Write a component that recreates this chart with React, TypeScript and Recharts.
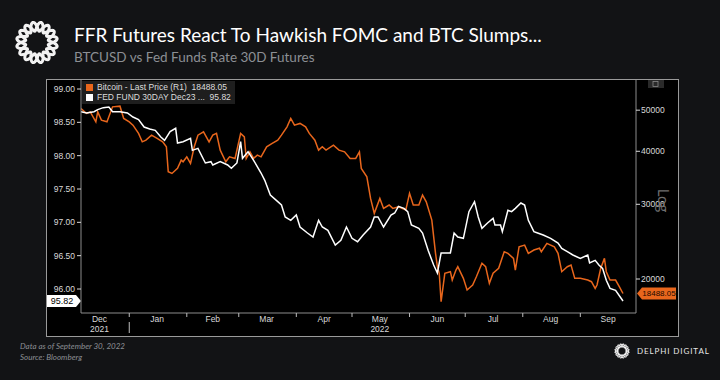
import React from 'react';
import { LineChart, Line, XAxis, YAxis, ReferenceLine } from 'recharts';

// FED FUND 30DAY Dec23 (left axis)
const ffrDates = [
  '2021-12-06', '2021-12-09', '2021-12-13', '2021-12-15', '2021-12-18', '2021-12-21', '2021-12-23', '2021-12-27',
  '2021-12-31', '2022-01-03', '2022-01-06', '2022-01-09', '2022-01-12', '2022-01-15', '2022-01-18', '2022-01-20',
  '2022-01-23', '2022-01-26', '2022-01-27', '2022-01-30', '2022-02-03', '2022-02-04', '2022-02-07', '2022-02-11',
  '2022-02-14', '2022-02-15', '2022-02-19', '2022-02-23', '2022-02-25', '2022-02-28', '2022-03-02', '2022-03-03',
  '2022-03-06', '2022-03-09', '2022-03-13', '2022-03-15', '2022-03-18', '2022-03-22', '2022-03-24', '2022-03-26',
  '2022-03-29', '2022-04-01', '2022-04-03', '2022-04-07', '2022-04-10', '2022-04-13', '2022-04-15', '2022-04-18',
  '2022-04-22', '2022-04-25', '2022-04-28', '2022-05-01', '2022-05-04', '2022-05-07', '2022-05-11', '2022-05-13',
  '2022-05-15', '2022-05-18', '2022-05-22', '2022-05-24', '2022-05-26', '2022-05-29', '2022-05-31', '2022-06-02',
  '2022-06-06', '2022-06-08', '2022-06-11', '2022-06-14', '2022-06-16', '2022-06-18', '2022-06-23', '2022-06-25',
  '2022-06-27', '2022-06-30', '2022-07-03', '2022-07-06', '2022-07-08', '2022-07-10', '2022-07-13', '2022-07-16',
  '2022-07-17', '2022-07-20', '2022-07-21', '2022-07-24', '2022-07-26', '2022-07-28', '2022-07-31', '2022-08-02',
  '2022-08-04', '2022-08-07', '2022-08-09', '2022-08-12', '2022-08-16', '2022-08-20', '2022-08-22', '2022-08-25',
  '2022-08-28', '2022-09-01', '2022-09-05', '2022-09-06', '2022-09-09', '2022-09-11', '2022-09-13', '2022-09-15',
  '2022-09-17', '2022-09-20', '2022-09-24',
];
const ffrValues = [
  98.66, 98.64, 98.66, 98.69, 98.72, 98.73, 98.66, 98.66,
  98.64, 98.58, 98.54, 98.43, 98.4, 98.38, 98.28, 98.23,
  98.36, 98.41, 98.19, 98.21, 98.26, 98.08, 98.11, 97.89,
  97.91, 97.86, 97.91, 97.86, 97.81, 97.89, 98.21, 97.96,
  98.06, 97.93, 97.74, 97.63, 97.41, 97.31, 97.26, 97.08,
  97.03, 97.11, 96.93, 96.84, 96.78, 97.03, 96.93, 96.88,
  96.66, 96.73, 96.93, 96.76, 96.71, 96.81, 96.93, 97.08,
  97.08, 96.93, 97.11, 97.14, 97.24, 97.21, 97.16, 96.96,
  96.91, 96.84, 96.58, 96.36, 96.24, 96.54, 96.54, 96.84,
  96.78, 96.76, 97.16, 97.31, 97.08, 96.91, 96.99, 97.06,
  96.96, 96.96, 96.86, 97.18, 97.16, 97.21, 97.29, 97.26,
  97.03, 96.86, 96.84, 96.81, 96.76, 96.69, 96.61, 96.56,
  96.51, 96.46, 96.51, 96.39, 96.43, 96.36, 96.31, 96.13,
  96.01, 95.98, 95.82,
];

// Bitcoin - Last Price (right axis, log)
const btcDates = [
  '2021-12-06', '2021-12-09', '2021-12-11', '2021-12-14', '2021-12-15', '2021-12-17', '2021-12-20', '2021-12-23',
  '2021-12-27', '2021-12-29', '2022-01-01', '2022-01-03', '2022-01-06', '2022-01-08', '2022-01-10', '2022-01-13',
  '2022-01-16', '2022-01-19', '2022-01-21', '2022-01-22', '2022-01-24', '2022-01-27', '2022-01-29', '2022-01-30',
  '2022-02-01', '2022-02-03', '2022-02-05', '2022-02-07', '2022-02-10', '2022-02-13', '2022-02-15', '2022-02-17',
  '2022-02-19', '2022-02-22', '2022-02-24', '2022-02-27', '2022-03-02', '2022-03-04', '2022-03-05', '2022-03-07',
  '2022-03-09', '2022-03-11', '2022-03-13', '2022-03-16', '2022-03-19', '2022-03-22', '2022-03-24', '2022-03-27',
  '2022-03-29', '2022-03-31', '2022-04-03', '2022-04-06', '2022-04-08', '2022-04-11', '2022-04-13', '2022-04-15',
  '2022-04-17', '2022-04-21', '2022-04-24', '2022-04-27', '2022-04-30', '2022-05-03', '2022-05-05', '2022-05-06',
  '2022-05-09', '2022-05-11', '2022-05-13', '2022-05-15', '2022-05-16', '2022-05-18', '2022-05-21', '2022-05-23',
  '2022-05-26', '2022-05-30', '2022-06-01', '2022-06-03', '2022-06-06', '2022-06-08', '2022-06-10', '2022-06-13',
  '2022-06-15', '2022-06-16', '2022-06-17', '2022-06-18', '2022-06-20', '2022-06-23', '2022-06-24', '2022-06-26',
  '2022-06-27', '2022-06-30', '2022-07-02', '2022-07-05', '2022-07-07', '2022-07-10', '2022-07-12', '2022-07-14',
  '2022-07-16', '2022-07-19', '2022-07-22', '2022-07-24', '2022-07-27', '2022-07-28', '2022-07-30', '2022-08-02',
  '2022-08-04', '2022-08-07', '2022-08-10', '2022-08-11', '2022-08-14', '2022-08-18', '2022-08-20', '2022-08-22',
  '2022-08-25', '2022-08-27', '2022-08-29', '2022-09-01', '2022-09-05', '2022-09-07', '2022-09-09', '2022-09-10',
  '2022-09-12', '2022-09-14', '2022-09-15', '2022-09-17', '2022-09-20', '2022-09-22', '2022-09-24',
];
const btcValues = [
  50470, 49110, 49550, 46940, 49550, 47380, 46940, 50910,
  51100, 47810, 46940, 46100, 44070, 42100, 42490, 43660,
  42890, 42100, 40990, 35790, 35470, 36450, 38130, 37780,
  38820, 37460, 40990, 43660, 44450, 42100, 43660, 44070,
  40250, 37780, 38820, 38480, 44070, 43260, 38480, 39880,
  38480, 39170, 38820, 40990, 41740, 42490, 43660, 45670,
  47810, 46100, 46530, 45670, 44070, 42490, 40250, 40990,
  40250, 41360, 40250, 39880, 38480, 38480, 39880, 36450,
  34830, 30970, 28560, 30150, 30970, 29340, 29880, 29340,
  29610, 29080, 31830, 29880, 29880, 31540, 30410, 27540,
  22990, 21380, 20630, 17680, 20630, 20810, 19890, 21000,
  21380, 20070, 18840, 19360, 20250, 21780, 21380, 19540,
  20630, 21200, 23190, 22990, 22370, 21000, 23820, 24040,
  22990, 23410, 23630, 23190, 24270, 23820, 22990, 20810,
  21380, 21580, 20070, 20070, 19890, 19710, 19010, 19360,
  21200, 22370, 20810, 19890, 19890, 19180, 18488.05,
];

const monthStarts = [
  '2022-01-01', '2022-02-01', '2022-03-01', '2022-04-01', '2022-05-01',
  '2022-06-01', '2022-07-01', '2022-08-01', '2022-09-01',
];
const monthLabels = ['Dec', 'Jan', 'Feb', 'Mar', 'Apr', 'May', 'Jun', 'Jul', 'Aug', 'Sep'];
const monthLabelDates = [
  '2021-12-16', '2022-01-16', '2022-02-15', '2022-03-16', '2022-04-16',
  '2022-05-16', '2022-06-16', '2022-07-16', '2022-08-16', '2022-09-16',
];
const yearLabels: Record<string, string> = { Dec: '2021', May: '2022' };
const leftTicks = [96, 96.5, 97, 97.5, 98, 98.5, 99];
const rightTicks = [20000, 30000, 40000, 50000];

const BTC_NAME = 'Bitcoin - Last Price (R1)';
const FFR_NAME = 'FED FUND 30DAY Dec23 ...';
const ORANGE = '#e8661c';
const AXIS_FONT = "'Liberation Sans', Arial, sans-serif";
const UI_FONT = "Lato, 'Open Sans', sans-serif";

const ts = (d: string) => Date.parse(d);

type Row = { t: number; ffr?: number; btc?: number };
const rowMap = new Map<number, Row>();
ffrDates.forEach((d, i) => {
  const t = ts(d);
  rowMap.set(t, { ...(rowMap.get(t) || { t }), ffr: ffrValues[i] });
});
btcDates.forEach((d, i) => {
  const t = ts(d);
  rowMap.set(t, { ...(rowMap.get(t) || { t }), btc: btcValues[i] });
});
const data = [...rowMap.values()].sort((a, b) => a.t - b.t);

const ffrLast = ffrValues[ffrValues.length - 1];
const btcLast = btcValues[btcValues.length - 1];

const startTicks = new Set(monthStarts.map(ts));
const labelByTick = new Map(monthLabelDates.map((d, i) => [ts(d), monthLabels[i]]));
const xTicks = [...monthStarts, ...monthLabelDates].map(ts).sort((a, b) => a - b);

const MonthTick = (props: any) => {
  const { x, y, payload } = props;
  const v = payload.value;
  if (startTicks.has(v)) {
    const isYearStart = new Date(v).getUTCMonth() === 0;
    return (
      <g>
        <line x1={x} x2={x} y1={y} y2={y + 4} stroke="#bdbdbd" />
        {isYearStart && <line x1={x} x2={x} y1={y + 9} y2={y + 20} stroke="#bdbdbd" />}
      </g>
    );
  }
  const m = labelByTick.get(v) || '';
  return (
    <g fontFamily={AXIS_FONT} fontSize={8.5} fill="#d9d9d9" textAnchor="middle">
      <text x={x} y={y + 9}>{m}</text>
      {yearLabels[m] && <text x={x} y={y + 18.5}>{yearLabels[m]}</text>}
    </g>
  );
};

const LeftTag = (props: any) => {
  const { x, y } = props.viewBox;
  return (
    <g>
      <polygon
        points={`${x - 34},${y - 6} ${x - 5},${y - 6} ${x},${y} ${x - 5},${y + 6} ${x - 34},${y + 6}`}
        fill="#ffffff"
      />
      <text x={x - 19} y={y + 3.2} textAnchor="middle" fontFamily={AXIS_FONT} fontSize={9} fill="#000">
        {ffrLast.toFixed(2)}
      </text>
    </g>
  );
};

const RightTag = (props: any) => {
  const { x, y, width } = props.viewBox;
  const x0 = x + width;
  return (
    <g>
      <polygon
        points={`${x0 + 1},${y} ${x0 + 6},${y - 6} ${x0 + 40},${y - 6} ${x0 + 40},${y + 6} ${x0 + 6},${y + 6}`}
        fill={ORANGE}
      />
      <text x={x0 + 23} y={y + 3} textAnchor="middle" fontFamily={AXIS_FONT} fontSize={8} fill="#1a0a00">
        {btcLast.toFixed(2)}
      </text>
    </g>
  );
};

// braided ring: two wavy loops around a circle
const Logo = ({ cx, cy, r, amp, w }: { cx: number; cy: number; r: number; amp: number; w: number }) => {
  const ring = (sign: number) => {
    const pts: string[] = [];
    for (let i = 0; i <= 160; i++) {
      const a = (i / 160) * Math.PI * 2;
      const rr = r + sign * amp * Math.sin(a * 8);
      pts.push(`${(cx + Math.cos(a) * rr).toFixed(2)},${(cy + Math.sin(a) * rr).toFixed(2)}`);
    }
    return `M${pts.join('L')}Z`;
  };
  return (
    <g fill="none" stroke="#f2f2f2" strokeWidth={w} strokeLinejoin="round">
      <path d={ring(1)} />
      <path d={ring(-1)} />
    </g>
  );
};

export default function App() {
  return (
    <div
      style={{
        position: 'absolute',
        left: 0,
        top: 0,
        width: 720,
        height: 380,
        background: '#121315',
        overflow: 'hidden',
      }}
    >
      <svg width={720} height={380} style={{ position: 'absolute', left: 0, top: 0 }}>
        <Logo cx={37} cy={42.5} r={16} amp={4.5} w={3} />
        <Logo cx={622} cy={351} r={5.5} amp={1.6} w={1.1} />
        <text x={74} y={42} fontFamily={UI_FONT} fontSize={19} fill="#ffffff">
          FFR Futures React To Hawkish FOMC and BTC Slumps...
        </text>
        <text x={74} y={62} fontFamily={UI_FONT} fontSize={13.5} fill="#8c8f94">
          BTCUSD vs Fed Funds Rate 30D Futures
        </text>
        <text x={20} y={349} fontFamily={UI_FONT} fontSize={8} fontStyle="italic" fill="#8c8f94">
          Data as of September 30, 2022
        </text>
        <text x={20} y={360} fontFamily={UI_FONT} fontSize={8} fontStyle="italic" fill="#8c8f94">
          Source: Bloomberg
        </text>
        <text x={637} y={354} fontFamily={UI_FONT} fontSize={8} letterSpacing={0.9} fill="#e6e6e6">
          DELPHI DIGITAL
        </text>
        <rect x={46.5} y={79.5} width={632} height={257} fill="#000" stroke="#9a9a9a" />
        <rect x={648} y={80} width={16} height={8} fill="#2a2a2a" />
        <rect x={653} y={81.5} width={5} height={5} fill="none" stroke="#888" strokeWidth={0.8} />
      </svg>

      <div style={{ position: 'absolute', left: 0, top: 0 }}>
        <LineChart
          width={720}
          height={380}
          data={data}
          margin={{ top: 80, right: 41, bottom: 37, left: 46 }}
        >
          <XAxis
            dataKey="t"
            type="number"
            domain={[ts('2021-12-06'), ts('2022-10-01')]}
            allowDataOverflow
            ticks={xTicks}
            interval={0}
            tick={<MonthTick />}
            tickLine={false}
            tickSize={0}
            tickMargin={0}
            axisLine={{ stroke: '#8c8c8c' }}
            height={30}
          />
          <YAxis
            yAxisId="left"
            orientation="left"
            type="number"
            width={35}
            domain={[95.64, 99.135]}
            allowDataOverflow
            ticks={leftTicks}
            interval={0}
            tickFormatter={(v: number) => v.toFixed(2)}
            tick={{ fill: '#d9d9d9', fontSize: 8.5, fontFamily: AXIS_FONT }}
            tickLine={{ stroke: '#d9d9d9' }}
            tickSize={4}
            tickMargin={2}
            axisLine={{ stroke: '#8c8c8c' }}
          />
          <YAxis
            yAxisId="right"
            orientation="right"
            type="number"
            scale="log"
            width={43}
            domain={[16630, 58900]}
            allowDataOverflow
            ticks={rightTicks}
            interval={0}
            tick={{ fill: '#d9d9d9', fontSize: 8.5, fontFamily: AXIS_FONT }}
            tickLine={{ stroke: '#d9d9d9' }}
            tickSize={4}
            tickMargin={1}
            axisLine={{ stroke: '#8c8c8c' }}
            label={{
              value: 'Log',
              angle: 90,
              position: 'center',
              dx: 6,
              dy: 4,
              fill: '#6f6f6f',
              fontSize: 15,
              fontFamily: UI_FONT,
            }}
          />
          <Line
            yAxisId="right"
            type="linear"
            dataKey="btc"
            name={BTC_NAME}
            stroke={ORANGE}
            strokeWidth={1.5}
            dot={false}
            connectNulls
            isAnimationActive={false}
          />
          <Line
            yAxisId="left"
            type="linear"
            dataKey="ffr"
            name={FFR_NAME}
            stroke="#ffffff"
            strokeWidth={1.5}
            dot={false}
            connectNulls
            isAnimationActive={false}
          />
          <ReferenceLine yAxisId="left" y={ffrLast} stroke="none" label={(p: any) => <LeftTag {...p} />} />
          <ReferenceLine yAxisId="right" y={btcLast} stroke="none" label={(p: any) => <RightTag {...p} />} />
        </LineChart>
      </div>

      <div
        style={{
          position: 'absolute',
          left: 82,
          top: 81,
          width: 153,
          height: 23,
          background: '#1e1e1e',
          fontFamily: AXIS_FONT,
          fontSize: 8.5,
          color: '#dcdcdc',
          lineHeight: '9.5px',
          paddingTop: 2,
          boxSizing: 'border-box',
        }}
      >
        {[
          { color: ORANGE, text: `${BTC_NAME}  ${btcLast.toFixed(2)}` },
          { color: '#ffffff', text: `${FFR_NAME}  ${ffrLast.toFixed(2)}` },
        ].map((item) => (
          <div key={item.text} style={{ display: 'flex', alignItems: 'center', whiteSpace: 'pre' }}>
            <span
              style={{ width: 7, height: 7, background: item.color, marginLeft: 4, marginRight: 4, display: 'inline-block' }}
            />
            {item.text}
          </div>
        ))}
      </div>
    </div>
  );
}
